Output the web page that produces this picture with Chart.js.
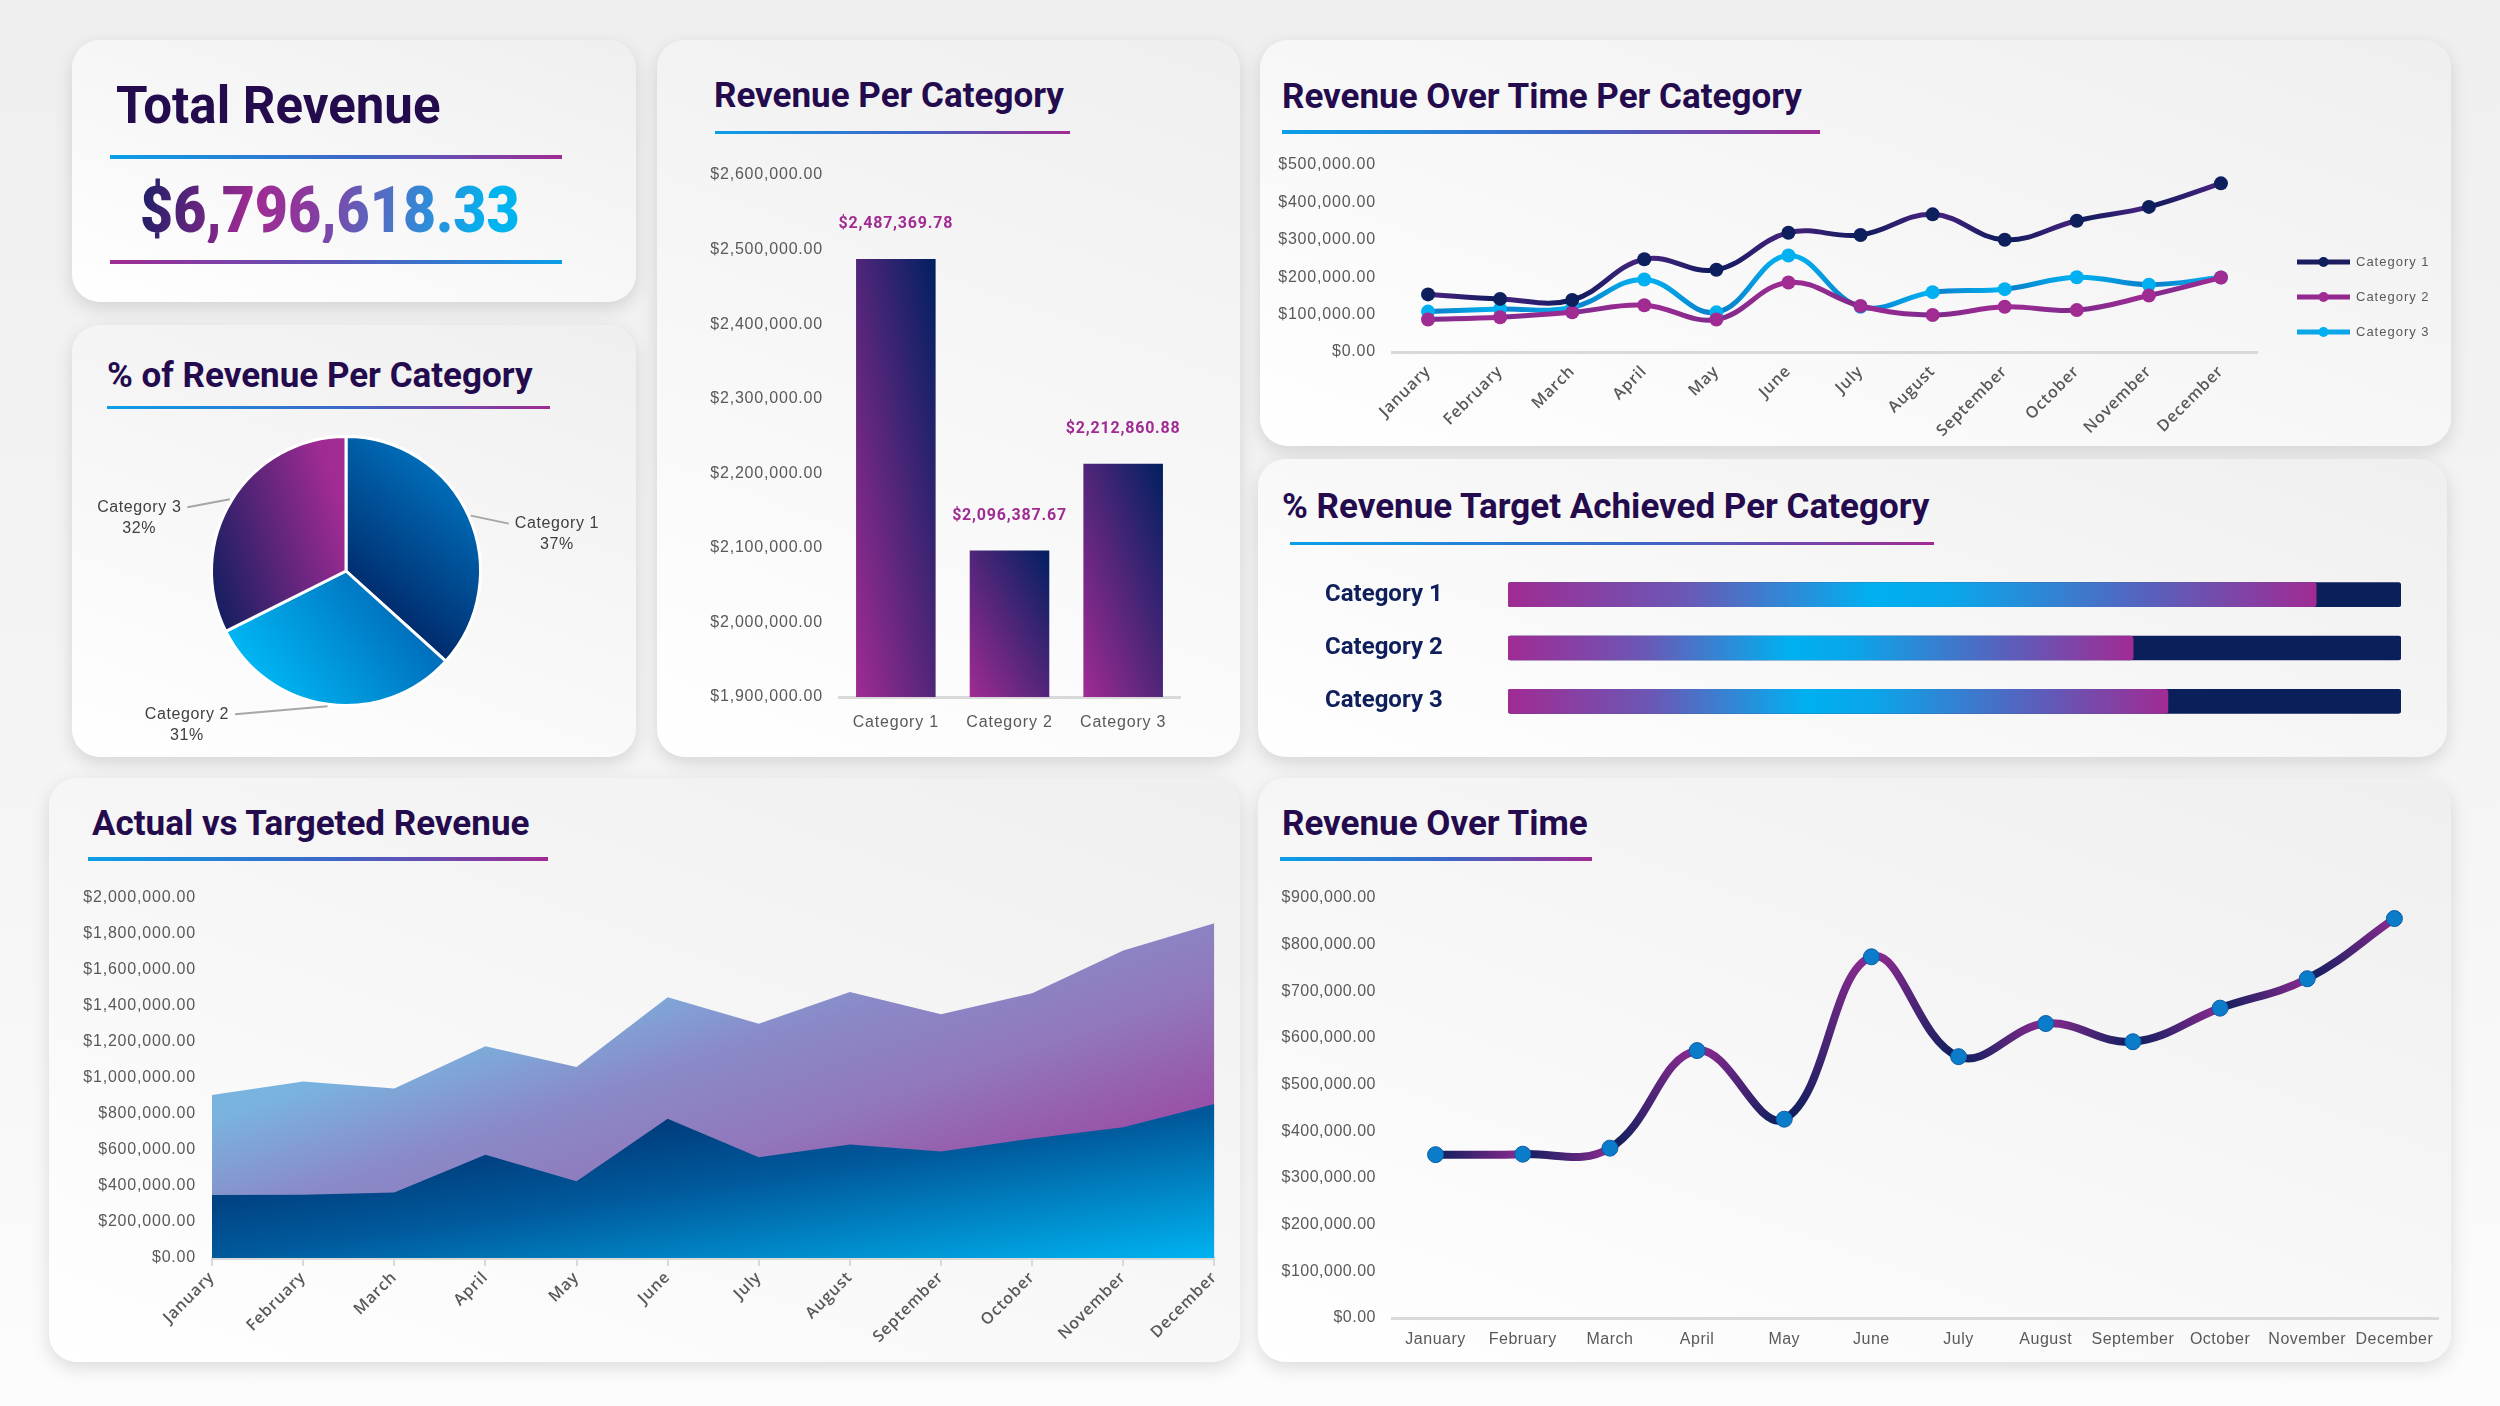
<!DOCTYPE html>
<html>
<head>
<meta charset="utf-8">
<title>Revenue Dashboard</title>
<script src="https://cdn.jsdelivr.net/npm/chart.js@4.4.1/dist/chart.umd.min.js"></script>
<style>
  html, body { margin: 0; padding: 0; }
  body {
    width: 2500px; height: 1406px; position: relative; overflow: hidden;
    background: linear-gradient(180deg, #efefef 0%, #f5f5f5 60%, #fcfcfc 100%);
    font-family: Roboto, "Liberation Sans", sans-serif;
  }
  .panel {
    position: absolute; border-radius: 28px;
    background: linear-gradient(200deg, #efefef 0%, #f6f6f6 45%, #ffffff 100%);
    box-shadow: 0 6px 18px rgba(0, 0, 0, 0.13);
  }
  .title {
    position: absolute; font-weight: 700; color: #240b4d; font-size: 35px;
    line-height: 1; white-space: nowrap;
  }
  .rule {
    position: absolute; height: 4px;
    background: linear-gradient(90deg, #0a9fe8 0%, #3f66c6 55%, #a02b93 100%);
  }
  .rule.rev { background: linear-gradient(90deg, #a02b93 0%, #5a55b8 50%, #0a9fe8 100%); }
  #total {
    position: absolute; left: 140px; top: 178px; font-size: 65px; font-weight: 900;
    line-height: 1; white-space: nowrap; transform: scaleX(0.88); transform-origin: left top;
    background: linear-gradient(100deg, #1d1f66 0%, #a02b93 30%, #8a3a9f 45%, #3f7fd0 70%, #00b4f0 92%);
    -webkit-background-clip: text; background-clip: text; color: transparent;
  }
  canvas { position: absolute; }
</style>
</head>
<body>

<div class="panel" style="left:72px;top:40px;width:564px;height:262px"></div>
<div class="panel" style="left:72px;top:325px;width:564px;height:432px"></div>
<div class="panel" style="left:657px;top:40px;width:583px;height:717px"></div>
<div class="panel" style="left:1260px;top:40px;width:1191px;height:406px"></div>
<div class="panel" style="left:1258px;top:459px;width:1189px;height:298px"></div>
<div class="panel" style="left:49px;top:778px;width:1191px;height:584px"></div>
<div class="panel" style="left:1258px;top:778px;width:1193px;height:584px"></div>

<div class="title" style="left:116px;top:80px;font-size:51px">Total Revenue</div>
<div class="rule" style="left:110px;top:155px;width:452px"></div>
<div id="total"></div>
<div class="rule rev" style="left:110px;top:260px;width:452px"></div>

<div class="title" style="left:107px;top:358px">% of Revenue Per Category</div>
<div class="rule" style="left:107px;top:406px;width:443px;height:3px"></div>

<div class="title" style="left:714px;top:78px">Revenue Per Category</div>
<div class="rule" style="left:715px;top:131px;width:355px;height:3px"></div>

<div class="title" style="left:1282px;top:79px">Revenue Over Time Per Category</div>
<div class="rule" style="left:1282px;top:130px;width:538px"></div>

<div class="title" style="left:1282px;top:489px">% Revenue Target Achieved Per Category</div>
<div class="rule" style="left:1290px;top:542px;width:644px;height:3px"></div>

<div class="title" style="left:92px;top:806px">Actual vs Targeted Revenue</div>
<div class="rule" style="left:88px;top:857px;width:460px"></div>

<div class="title" style="left:1282px;top:806px">Revenue Over Time</div>
<div class="rule" style="left:1280px;top:857px;width:312px"></div>

<canvas id="pie" width="540" height="330" style="left:80px;top:420px"></canvas>
<canvas id="bars" width="583" height="607" style="left:657px;top:150px"></canvas>
<canvas id="catLines" width="1180" height="300" style="left:1262px;top:140px"></canvas>
<canvas id="target" width="1100" height="208" style="left:1320px;top:540px"></canvas>
<canvas id="area" width="1170" height="480" style="left:60px;top:870px"></canvas>
<canvas id="timeline" width="1186" height="490" style="left:1262px;top:870px"></canvas>

<script>
// ---- data ----
const categories = ['Category 1', 'Category 2', 'Category 3'];
const categoryRevenue = [2487369.78, 2096387.67, 2212860.88];
const revenueSharePct = [36.7, 30.9, 32.4];
const months = ['January', 'February', 'March', 'April', 'May', 'June',
                'July', 'August', 'September', 'October', 'November', 'December'];
const cat1Monthly = [154000, 142000, 139000, 248000, 220000, 319000, 313000, 368000, 300000, 351000, 388000, 451000];
const cat2Monthly = [87000, 93000, 106000, 125000, 87000, 186000, 123000, 99000, 121000, 112000, 151000, 199000];
const cat3Monthly = [108000, 115000, 119000, 194000, 106000, 258000, 121000, 160000, 168000, 200000, 180000, 199000];
const actualMonthly = [350000, 351000, 364000, 573000, 426000, 774000, 560000, 631000, 592000, 664000, 727000, 856000];
const targetMonthly = [905000, 980000, 941000, 1177000, 1061000, 1448000, 1301000, 1478000, 1354000, 1471000, 1709000, 1860000];
const targetAchievedPct = [90.5, 70.0, 73.9];
const targetFullPct = [100, 100, 100];

// axis ranges
const barAxis = { min: 1900000, max: 2600000, step: 100000 };
const catLineAxis = { min: 0, max: 500000, step: 100000 };
const areaAxis = { min: 0, max: 2000000, step: 200000 };
const timelineAxis = { min: 0, max: 900000, step: 100000 };

const NAVY = '#0c1f5e', PURPLE = '#a02b93', CYAN = '#00b0f0', BLUE = '#0070c0';
const GREY = '#595959', AXIS = '#d9d9d9';

Chart.defaults.animation = false;
Chart.defaults.responsive = false;
Chart.defaults.plugins.legend.display = false;
Chart.defaults.plugins.tooltip.enabled = false;

const money = v => '$' + Number(v).toLocaleString('en-US', { minimumFractionDigits: 2, maximumFractionDigits: 2 });
const tickFont = { family: '"Liberation Sans", Arial, sans-serif', size: 16 };
const monthFont = { family: '"Open Sans", sans-serif', size: 16, weight: '600' };

document.getElementById('total').textContent = money(categoryRevenue.reduce((a, b) => a + b, 0));

// canvas letter spacing, roughly like the light condensed face of the original
const spacing = {
  id: 'spacing',
  beforeDraw(chart, args, opts) { chart.ctx.letterSpacing = (opts.px || 0) + 'px'; }
};

// gradient whose isolines run along a box diagonal (as in the office charts)
function boxGradient(ctx, L, T, R, B, from, stops) {
  const w = R - L, h = B - T, k = 2 * w * h / (w * w + h * h);
  let g;
  if (from === 'bottomLeft') g = ctx.createLinearGradient(L, B, L + h * k, B - w * k);
  else g = ctx.createLinearGradient(L, T, L + h * k, T + w * k);
  stops.forEach(s => g.addColorStop(s[0], s[1]));
  return g;
}

// line segments: dark in the troughs, the accent colour on the peaks
function segmentShade(low, high) {
  return c => {
    const g = c.chart.ctx.createLinearGradient(c.p0.x, c.p0.y, c.p1.x, c.p1.y);
    const rising = c.p1.y < c.p0.y;
    g.addColorStop(0, rising ? low : high);
    g.addColorStop(1, rising ? high : low);
    return g;
  };
}

// ---------- pie ----------
const pieShades = [['#002060', '#0079c6'], ['#00b8f4', '#0064b4'], ['#1a1f62', '#a02b93']];
new Chart(document.getElementById('pie'), {
  type: 'pie',
  data: {
    labels: categories,
    datasets: [{
      data: revenueSharePct,
      borderColor: '#ffffff', borderWidth: 3,
      backgroundColor: c => {
        const a = c.chart.chartArea;
        if (!a) return BLUE;
        const cx = (a.left + a.right) / 2, cy = (a.top + a.bottom) / 2, r = Math.min(a.width, a.height) / 2;
        const ctx = c.chart.ctx, s = pieShades[c.dataIndex];
        let g;
        if (c.dataIndex === 0) g = ctx.createLinearGradient(cx, cy + r * 0.3, cx + r * 0.9, cy - r * 0.8);
        else if (c.dataIndex === 1) g = ctx.createLinearGradient(cx - r * 0.6, cy + r * 0.9, cx + r * 0.5, cy + r * 0.1);
        else g = ctx.createLinearGradient(cx - r, cy, cx, cy - r * 0.3);
        g.addColorStop(0, s[0]); g.addColorStop(1, s[1]);
        return g;
      }
    }]
  },
  options: {
    layout: { padding: { left: 130, right: 138, top: 15, bottom: 43 } },
    plugins: { spacing: { px: 0.6 } }
  },
  plugins: [spacing, {
    id: 'pieLabels',
    afterDatasetsDraw(chart) {
      const ctx = chart.ctx, values = chart.data.datasets[0].data;
      const total = values.reduce((a, b) => a + b, 0);
      ctx.save();
      ctx.font = '16px "Liberation Sans", Arial, sans-serif';
      ctx.textAlign = 'center'; ctx.textBaseline = 'middle';
      chart.getDatasetMeta(0).data.forEach((arc, i) => {
        const mid = (arc.startAngle + arc.endAngle) / 2;
        const dx = Math.cos(mid), dy = Math.sin(mid);
        const ex = arc.x + dx * (arc.outerRadius + 2), ey = arc.y + dy * (arc.outerRadius + 2);
        const side = dx >= 0 ? 1 : -1;
        const lx = ex + side * (32 + 70 * (1 - Math.abs(dx))), ly = ey + 8;
        ctx.strokeStyle = '#a6a6a6'; ctx.lineWidth = 2;
        ctx.beginPath(); ctx.moveTo(ex, ey); ctx.lineTo(lx, ly); ctx.stroke();
        const name = chart.data.labels[i];
        const tx = lx + side * (6 + ctx.measureText(name).width / 2);
        ctx.fillStyle = '#404040';
        ctx.fillText(name, tx, ly);
        ctx.fillText(Math.round(values[i] / total * 100) + '%', tx, ly + 21);
      });
      ctx.restore();
    }
  }]
});

// ---------- revenue per category ----------
new Chart(document.getElementById('bars'), {
  type: 'bar',
  data: {
    labels: categories,
    datasets: [{
      data: categoryRevenue,
      categoryPercentage: 0.7, barPercentage: 1,
      backgroundColor: c => {
        const ch = c.chart;
        if (!ch.chartArea) return '#4a2377';
        const xs = ch.scales.x, ys = ch.scales.y;
        const cx = xs.getPixelForValue(c.dataIndex), half = xs.width / categories.length * 0.35;
        return boxGradient(ch.ctx, cx - half, ys.getPixelForValue(c.raw), cx + half, ys.bottom, 'bottomLeft',
          [[0, PURPLE], [1, '#002060']]);
      }
    }]
  },
  options: {
    layout: { padding: { left: 0, right: 60, top: 25, bottom: 0 } },
    scales: {
      x: {
        grid: { display: false }, border: { color: AXIS, width: 3 },
        ticks: { color: GREY, font: tickFont, padding: 8 },
        afterFit: s => { s.height = 60; }
      },
      y: {
        min: barAxis.min, max: barAxis.max,
        grid: { display: false }, border: { display: false },
        ticks: { stepSize: barAxis.step, color: GREY, font: tickFont, padding: 8, callback: v => money(v) },
        afterFit: s => { s.width = 182; }
      }
    },
    plugins: { spacing: { px: 0.8 } }
  },
  plugins: [spacing, {
    id: 'barValues',
    afterDatasetsDraw(chart) {
      const ctx = chart.ctx, data = chart.data.datasets[0].data;
      ctx.save();
      ctx.font = 'bold 16px Roboto, sans-serif';
      ctx.fillStyle = PURPLE; ctx.textAlign = 'center'; ctx.textBaseline = 'middle';
      chart.getDatasetMeta(0).data.forEach((el, i) => ctx.fillText(money(data[i]), el.x, el.y - 35));
      ctx.restore();
    }
  }]
});

// ---------- revenue over time per category ----------
new Chart(document.getElementById('catLines'), {
  type: 'line',
  data: {
    labels: months,
    datasets: [
      { label: 'Category 1', data: cat1Monthly, borderColor: '#1b1d5e', pointBackgroundColor: '#0d1f5c',
        segment: { borderColor: segmentShade('#0d1b5c', '#4b2280') } },
      { label: 'Category 2', data: cat2Monthly, borderColor: '#93298f', pointBackgroundColor: PURPLE,
        segment: { borderColor: segmentShade('#7d2a8c', '#a02b93') } },
      { label: 'Category 3', data: cat3Monthly, borderColor: '#0aa6e8', pointBackgroundColor: CYAN,
        segment: { borderColor: segmentShade('#0a7cc8', '#00b4f2') } }
    ]
  },
  options: {
    layout: { padding: { left: 0, right: 185, top: 25, bottom: 0 } },
    elements: {
      line: { borderWidth: 5, tension: 0.4 },
      point: { radius: 7, borderWidth: 0 }
    },
    scales: {
      x: {
        offset: true, grid: { display: false }, border: { color: AXIS, width: 3 },
        ticks: { color: GREY, font: monthFont, minRotation: 45, maxRotation: 45, autoSkip: false, padding: 2 },
        afterFit: s => { s.height = 88; }
      },
      y: {
        min: catLineAxis.min, max: catLineAxis.max,
        grid: { display: false }, border: { display: false },
        ticks: { stepSize: catLineAxis.step, color: GREY, font: tickFont, padding: 8, callback: v => money(v) },
        afterFit: s => { s.width = 130; }
      }
    },
    plugins: { spacing: { px: 0.8 } }
  },
  plugins: [spacing, {
    id: 'sideLegend',
    afterDraw(chart) {
      const ctx = chart.ctx, a = chart.chartArea;
      ctx.save();
      ctx.font = '13px "Liberation Sans", Arial, sans-serif';
      ctx.letterSpacing = '1px';
      ctx.textBaseline = 'middle';
      chart.data.datasets.forEach((ds, i) => {
        const x = a.right + 40, y = a.top + 97 + i * 35;
        ctx.strokeStyle = ds.borderColor; ctx.lineWidth = 5;
        ctx.beginPath(); ctx.moveTo(x, y); ctx.lineTo(x + 53, y); ctx.stroke();
        ctx.fillStyle = ds.pointBackgroundColor;
        ctx.beginPath(); ctx.arc(x + 26.5, y, 5, 0, Math.PI * 2); ctx.fill();
        ctx.fillStyle = GREY;
        ctx.fillText(ds.label, x + 59, y);
      });
      ctx.restore();
    }
  }]
});

// ---------- % revenue target achieved ----------
new Chart(document.getElementById('target'), {
  type: 'bar',
  data: {
    labels: categories,
    datasets: [
      {
        data: targetAchievedPct,
        backgroundColor: c => {
          const ch = c.chart;
          if (!ch.chartArea) return CYAN;
          const xs = ch.scales.x;
          const g = ch.ctx.createLinearGradient(xs.getPixelForValue(0), 0, xs.getPixelForValue(c.raw), 0);
          g.addColorStop(0, PURPLE); g.addColorStop(0.22, '#6a58b6'); g.addColorStop(0.45, CYAN);
          g.addColorStop(0.55, '#0aa6ea'); g.addColorStop(0.8, '#5a5fbc'); g.addColorStop(1, PURPLE);
          return g;
        }
      },
      { data: targetFullPct, backgroundColor: '#0b1f5a' }
    ]
  },
  options: {
    indexAxis: 'y',
    datasets: { bar: { grouped: false, barThickness: 24, borderRadius: 3, borderSkipped: false } },
    layout: { padding: { left: 5, right: 19, top: 28, bottom: 20 } },
    scales: {
      x: { display: false, min: 0, max: 100 },
      y: {
        grid: { display: false }, border: { display: false },
        ticks: { crossAlign: 'far', color: '#0e1f5b', font: { family: 'Roboto, sans-serif', size: 24, weight: 'bold' } },
        afterFit: s => { s.width = 183; }
      }
    }
  }
});

// ---------- actual vs targeted ----------
new Chart(document.getElementById('area'), {
  type: 'line',
  data: {
    labels: months,
    datasets: [
      {
        label: 'Actual', data: actualMonthly, fill: 'origin', borderWidth: 0, pointRadius: 0, tension: 0,
        backgroundColor: c => {
          const ch = c.chart, a = ch.chartArea;
          if (!a) return BLUE;
          return boxGradient(ch.ctx, a.left, ch.scales.y.getPixelForValue(800000), a.right, a.bottom, 'topLeft',
            [[0, '#001f5e'], [0.5, '#005a9c'], [1, '#00b3f1']]);
        }
      },
      {
        label: 'Target', data: targetMonthly, fill: 'origin', borderWidth: 0, pointRadius: 0, tension: 0,
        backgroundColor: c => {
          const ch = c.chart, a = ch.chartArea;
          if (!a) return '#8a8ac8';
          return boxGradient(ch.ctx, a.left, ch.scales.y.getPixelForValue(1900000), a.right, a.bottom, 'topLeft',
            [[0, '#6cc0ea'], [0.3, '#7ab2de'], [0.45, '#8a8ac8'], [0.6, '#9178bc'], [0.8, '#9a4ca4'], [1, '#a2309a']]);
        }
      }
    ]
  },
  options: {
    layout: { padding: { left: 0, right: 15, top: 28, bottom: 0 } },
    scales: {
      x: {
        offset: false,
        grid: { display: true, drawOnChartArea: false, drawTicks: true, tickLength: 8, color: AXIS, lineWidth: 2 },
        border: { color: AXIS, width: 3 },
        ticks: { color: GREY, font: monthFont, minRotation: 45, maxRotation: 45, autoSkip: false, padding: 2 },
        afterFit: s => { s.height = 92; }
      },
      y: {
        min: areaAxis.min, max: areaAxis.max,
        grid: { display: false }, border: { display: false },
        ticks: { stepSize: areaAxis.step, color: GREY, font: tickFont, padding: 8, callback: v => money(v) },
        afterFit: s => { s.width = 152; }
      }
    },
    plugins: { spacing: { px: 0.8 } }
  },
  plugins: [spacing]
});

// ---------- revenue over time ----------
new Chart(document.getElementById('timeline'), {
  type: 'line',
  data: {
    labels: months,
    datasets: [{
      label: 'Revenue', data: actualMonthly,
      borderColor: '#2a1f6e', borderWidth: 8, tension: 0.4,
      segment: { borderColor: segmentShade('#0d1f5c', '#8c2a90') },
      pointRadius: 8, pointBackgroundColor: '#0a7cc9', pointBorderColor: '#0b5da6', pointBorderWidth: 1
    }]
  },
  options: {
    layout: { padding: { left: 0, right: 10, top: 28, bottom: 0 } },
    scales: {
      x: {
        offset: true, grid: { display: false }, border: { color: AXIS, width: 3 },
        ticks: { color: GREY, font: tickFont, maxRotation: 0, autoSkip: false, padding: 4 },
        afterFit: s => { s.height = 42; }
      },
      y: {
        min: timelineAxis.min, max: timelineAxis.max,
        grid: { display: false }, border: { display: false },
        ticks: { stepSize: timelineAxis.step, color: GREY, font: tickFont, padding: 8, callback: v => money(v) },
        afterFit: s => { s.width = 130; }
      }
    },
    plugins: { spacing: { px: 0.5 } }
  },
  plugins: [spacing]
});
</script>
</body>
</html>
